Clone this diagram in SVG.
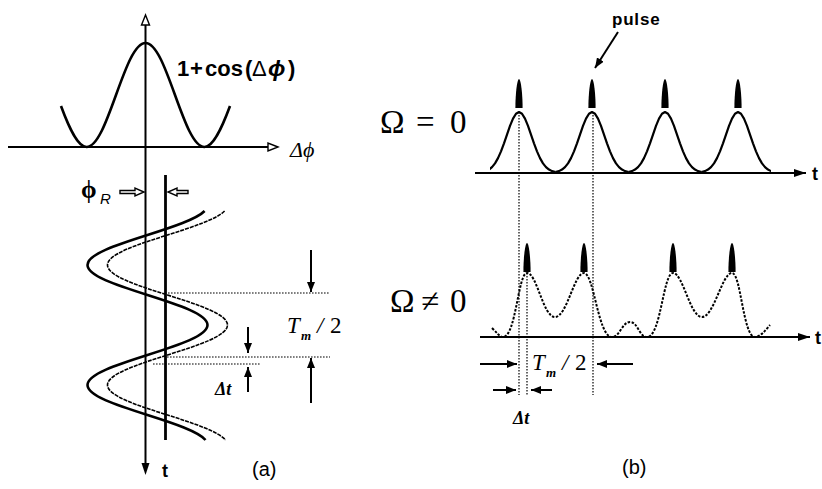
<svg xmlns="http://www.w3.org/2000/svg" xmlns:xlink="http://www.w3.org/1999/xlink" width="822" height="489" viewBox="0 0 822 489">
<style>
.ln{fill:none;stroke:#000;stroke-width:2;stroke-linecap:butt}
.thick{fill:none;stroke:#000;stroke-width:2.6;stroke-linejoin:round}
.thin{fill:none;stroke:#000;stroke-width:1.6;stroke-dasharray:4 1}
.dot{fill:none;stroke:#000;stroke-width:1.2;stroke-dasharray:1.6 1.4}
.dcurve{fill:none;stroke:#000;stroke-width:2;stroke-dasharray:2.5 1.5}
.hol{fill:#fff;stroke:#000;stroke-width:1.4;stroke-linejoin:miter}
.sb{font-family:"Liberation Sans",Arial,sans-serif;font-weight:bold}
.ss{font-family:"Liberation Sans",Arial,sans-serif}
.tm{font-family:"Liberation Serif","Times New Roman",serif}
.it{font-style:italic}
</style>
<defs>
<marker id="ah" viewBox="0 0 10 8" refX="10" refY="4" markerWidth="10" markerHeight="8" markerUnits="userSpaceOnUse" orient="auto">
<path d="M0,0 L10,4 L0,8 Z" fill="#000"/>
</marker>
<marker id="ahb" viewBox="0 0 12 8" refX="12" refY="4" markerWidth="12" markerHeight="8" markerUnits="userSpaceOnUse" orient="auto">
<path d="M0,0 L12,4 L0,8 Z" fill="#000"/>
</marker>
<path id="pl" d="M-3.6,29 C-3.6,14 -1.8,0 0,0 C1.8,0 3.6,14 3.6,29 Z" fill="#000"/>
<path id="g" d="M-36.5,60.17 L-33,59.13 L-30,57.58 L-27,55.08 L-24,51.34 L-21,46.13 L-18,39.37 L-15,31.31 L-12,22.52 L-9,13.93 L-6,6.64 L-3,1.73 L0,0 L3,1.73 L6,6.64 L9,13.93 L12,22.52 L15,31.31 L18,39.37 L21,46.13 L24,51.34 L27,55.08 L30,57.58 L33,59.13 L36.5,60.17" fill="none" stroke="#000" stroke-width="2.2" stroke-linejoin="round"/>
<clipPath id="cb"><rect x="490" y="60" width="281" height="120"/></clipPath>
</defs>

<g id="panel-a">
  <g id="cosine">
    <path class="thick" d="M61,106 C69.5,129 78,147 86.5,147 C97.18,147 106.38,121.64 116,95 C125.62,68.36 134.82,43 145.5,43 C156.18,43 165.38,68.36 175,95 C184.62,121.64 193.82,147 204.5,147 C213,147 221.5,129 230,106"/>
    <text class="sb" font-size="22" y="76"><tspan x="177">1</tspan><tspan x="190">+</tspan><tspan x="205">cos</tspan><tspan x="245">(</tspan><tspan x="252" font-weight="normal">Δ</tspan><tspan x="268" font-style="italic" font-size="23">ϕ</tspan><tspan x="288">)</tspan></text>
  </g>
  <g id="axes-a">
    <line class="ln" x1="145.5" y1="25" x2="145.5" y2="463"/>
    <polygon class="hol" points="145.5,15 141.5,25 149.5,25"/>
    <polygon points="145.5,475 141.5,463 149.5,463" fill="#000"/>
    <line class="ln" x1="8" y1="147" x2="268" y2="147"/>
    <polygon class="hol" points="278,147 268,143 268,151"/>
    <text class="tm it" font-size="22" x="290" y="157">Δϕ</text>
    <text class="sb" font-size="18" x="162" y="477">t</text>
  </g>
  <g id="ref-line">
    <line x1="165.5" y1="175" x2="165.5" y2="440" stroke="#000" stroke-width="2.8"/>
  </g>
  <g id="sinusoids">
    <path class="thick" d="M204.6,211 C196.8,219 172.6,227 147.5,235 C116.76,244.78 87.5,254.14 87.5,265 C87.5,275.86 116.74,285.22 147.5,295 C178.24,304.78 207.5,314.14 207.5,325 C207.5,335.86 178.26,345.22 147.5,355 C116.76,364.78 87.5,374.14 87.5,385 C87.5,395.86 116.74,405.22 147.5,415 C173.7,423.3 198.7,431.7 205.5,440"/>
    <path class="thin" transform="translate(20,0)" d="M204.6,211 C196.8,219 172.6,227 147.5,235 C116.76,244.78 87.5,254.14 87.5,265 C87.5,275.86 116.74,285.22 147.5,295 C178.24,304.78 207.5,314.14 207.5,325 C207.5,335.86 178.26,345.22 147.5,355 C116.76,364.78 87.5,374.14 87.5,385 C87.5,395.86 116.74,405.22 147.5,415 C173.7,423.3 198.7,431.7 205.5,440"/>
  </g>
  <g id="phiR">
    <text class="tm" font-size="25" font-weight="bold" x="81" y="198">ϕ</text>
    <text class="ss it" font-size="15" x="100" y="204">R</text>
    <polygon class="hol" points="120,190.5 135,190.5 135,188 144,192 135,196 135,193.5 120,193.5"/>
    <polygon class="hol" points="188,190.5 177,190.5 177,188 168,192 177,196 177,193.5 188,193.5"/>
  </g>
  <g id="dims-a">
    <line class="dot" x1="168" y1="293" x2="330" y2="293"/>
    <line class="dot" x1="167" y1="357" x2="330" y2="357"/>
    <line class="dot" x1="153" y1="364" x2="260" y2="364"/>
    <text class="tm it" font-size="23" x="287" y="333">T</text>
    <text class="tm it" font-size="13" font-weight="bold" x="301" y="340">m</text>
    <text class="tm it" font-size="23" x="317" y="333">/</text>
    <text class="tm" font-size="23" x="330" y="333">2</text>
    <text class="tm it" font-size="18" font-weight="bold" x="215" y="395">Δt</text>
  </g>
  <text class="ss" font-size="20" x="252" y="476">(a)</text>
</g>

<g id="panel-b">
  <g id="top-trace">
    <text class="tm" font-size="33" y="133"><tspan x="380">Ω</tspan><tspan x="416">=</tspan><tspan x="450">0</tspan></text>
    <g clip-path="url(#cb)">
      <use xlink:href="#g" x="519" y="112"/>
      <use xlink:href="#g" x="592" y="112"/>
      <use xlink:href="#g" x="665" y="112"/>
      <use xlink:href="#g" x="738" y="112"/>
    </g>
    <use xlink:href="#pl" x="519" y="79"/>
    <use xlink:href="#pl" x="592" y="79"/>
    <use xlink:href="#pl" x="665" y="79"/>
    <use xlink:href="#pl" x="738" y="79"/>
    <text class="sb" font-size="17" letter-spacing="0.8" x="612" y="25">pulse</text>
    <text class="sb" font-size="18" x="812" y="180">t</text>
  </g>
  <g id="bottom-trace">
    <text class="tm" font-size="33" y="312"><tspan x="390">Ω</tspan><tspan x="421">≠</tspan><tspan x="450">0</tspan></text>
    <path class="dcurve" d="M492,328 C497,333 500,337 503,337 C516,337 518,273 527,273 C537,273 543,317 555,317 C567,317 574,273 584,273 C594,273 598,337 612,337 C620,337 622,322 630,322 C638,322 639,337 647,337 C661,337 663,273 673,273 C683,273 690,317 702,317 C714,317 722,273 732,273 C741,273 743,337 755,337 C760,337 765,331 770,325"/>
    <use xlink:href="#pl" x="527" y="243"/>
    <use xlink:href="#pl" x="584" y="243"/>
    <use xlink:href="#pl" x="673" y="243"/>
    <use xlink:href="#pl" x="732" y="243"/>
    <text class="sb" font-size="18" x="815" y="344">t</text>
  </g>
  <g id="dims-b">
    <line class="dot" x1="519" y1="112" x2="519" y2="395"/>
    <line class="dot" x1="593" y1="112" x2="593" y2="395"/>
    <line class="dot" x1="527" y1="273" x2="527" y2="395"/>
    <text class="tm it" font-size="23" x="532" y="370">T</text>
    <text class="tm it" font-size="13" font-weight="bold" x="546" y="377">m</text>
    <text class="tm it" font-size="23" x="562" y="370">/</text>
    <text class="tm" font-size="23" x="575" y="370">2</text>
    <text class="tm it" font-size="18" font-weight="bold" x="513" y="424">Δt</text>
  </g>
  <text class="ss" font-size="20" x="622" y="474">(b)</text>
</g>

<g id="connectors">
  <line class="ln" x1="475" y1="173" x2="806" y2="173" marker-end="url(#ahb)"/>
  <line class="ln" x1="480" y1="337" x2="810" y2="337" marker-end="url(#ahb)"/>
  <line class="ln" x1="618" y1="32" x2="595" y2="68" marker-end="url(#ah)"/>
  <line class="ln" x1="311" y1="250" x2="311" y2="292" marker-end="url(#ah)"/>
  <line class="ln" x1="311" y1="403" x2="311" y2="358" marker-end="url(#ah)"/>
  <line class="ln" x1="248" y1="327" x2="248" y2="353" marker-end="url(#ah)"/>
  <line class="ln" x1="248" y1="392" x2="248" y2="367" marker-end="url(#ah)"/>
  <line class="ln" x1="480" y1="364" x2="517" y2="364" marker-end="url(#ah)"/>
  <line class="ln" x1="633" y1="364" x2="597" y2="364" marker-end="url(#ah)"/>
  <line class="ln" x1="493" y1="390" x2="516" y2="390" marker-end="url(#ah)"/>
  <line class="ln" x1="552" y1="390" x2="531" y2="390" marker-end="url(#ah)"/>
</g>
</svg>
